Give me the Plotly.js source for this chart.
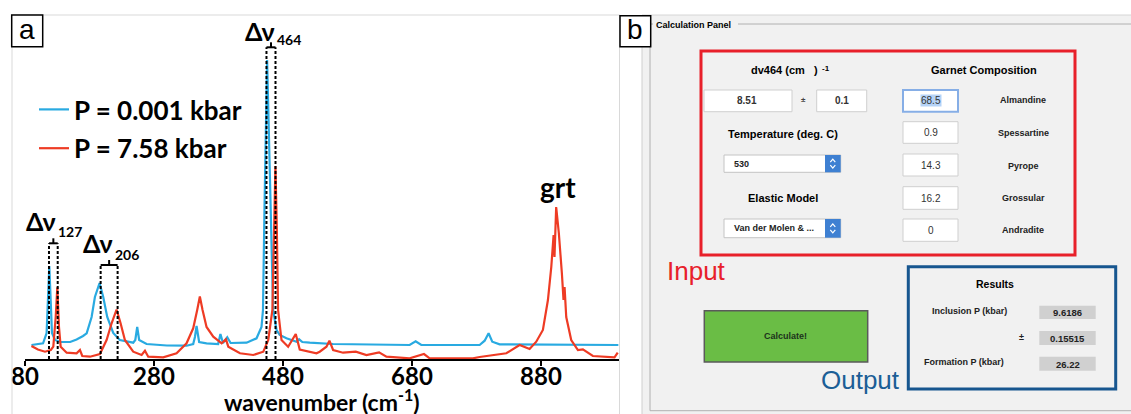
<!DOCTYPE html>
<html>
<head>
<meta charset="utf-8">
<script src="https://cdn.plot.ly/plotly-3.0.1.min.js"></script>
<style>html,body{margin:0;padding:0;background:#fff;}#chart{width:1131px;height:414px;}</style>
</head>
<body>
<div id="chart"></div>
<script>
// ---------- DATA ----------
const seriesNames = ['P = 0.001 kbar', 'P = 7.58 kbar'];
const lowPWavenumber = [90,108,113.5,116,117.7,119.8,121.8,126.5,135,150,160,170,175.6,183.3,188.4,195.6,201.3,207.5,216.8,227,247.8,251,254,257,268.5,300,330.5,340.8,343.5,346,348.5,350,361.5,379.5,383,387,393.6,398.8,423.6,439,446.7,449,451.3,453.3,455.4,458.5,461.6,464.7,470,475,485.4,501,505,510,521.5,557.7,676.4,685.7,694.5,784.9,792.7,798.8,804.5,815.9,1000];
const lowPIntensity = [14,15.7,26,59,93,59,26,19,17,17,19.5,23,25.7,42,62,76,62,42,26,19,16.3,19,32,19,15,13.5,13.3,15,22,33,22,17,15.7,15,25,16,21.7,16,16.3,20.7,32,49,149,249,299,216,116,49,29,24,20.7,17.3,19.7,17,16.3,15,14,17.7,14,14,18.3,25.7,17.3,14.7,14];
const highPWavenumber = [90,100,111,120,123.9,127.6,130.1,132.7,135.3,144.6,160,165.2,168.8,180.7,196.2,206.5,214.3,222,228.2,234.9,247.8,260.8,266,271.1,294.3,315,330.5,340.8,347,351.1,355.3,361.5,371.9,384.9,391.6,395.2,413.3,433.9,449.5,457.2,463.6,465.7,468.3,470.4,472.4,477.7,488,499.8,506,531.9,537,547.4,552,557.7,573.2,592.9,609.4,629,640.4,676.4,698.6,707.4,774.5,784.9,805.5,826.3,846.9,862.4,872.7,883,890.8,896,899.6,901,903.6,907.7,912.4,915,916.6,919.2,926.9,937.3,945,960.5,994,999];
const highPIntensity = [13,9.5,7.3,9,12.3,42,71.7,32,12.3,6.3,5.7,9,3,2.3,5,19,35.7,49.5,35.7,19,7.3,4,8.3,2.3,1.7,5.7,15.7,30.7,49,62.5,49,32,22.3,15.7,19.7,12.3,5.7,4,7.3,19,49,132,193,132,49,19,12.3,25,9.5,5.7,7.3,12.3,18.3,9,6.3,7.3,4,6.7,2.3,0.7,5,0.7,0.7,2,4,5.7,14,10,17.3,29,59,92,124,102,152,126,86,59,72,42,19,9,9.7,3,1.7,6.3];
const tickValues = [80, 280, 480, 680, 880];
const xAxisTitle = 'wavenumber (cm<sup>-1</sup>)';
const shiftLabels = ['127', '206', '464'];
const lowPPeak = [117.2, 197.3, 454.4];
const highPPeak = [130.7, 223.6, 468.4];

// GUI panel contents
const dvValue = '8.51', dvError = '0.1';
const temperatureValue = '530';
const elasticModel = 'Van der Molen & ...';
const garnetNames = ['Almandine', 'Spessartine', 'Pyrope', 'Grossular', 'Andradite'];
const garnetValues = ['68.5', '0.9', '14.3', '16.2', '0'];
const resultLabels = ['Inclusion P (kbar)', '±', 'Formation P (kbar)'];
const resultValues = ['9.6186', '0.15515', '26.22'];

// ---------- LAYOUT HELPERS ----------
const W = 1131, H = 414;
const X = px => px / W;
const Y = py => 1 - py / H;
const LATO = 'Lato, "Open Sans", sans-serif';
const SANS = '"Liberation Sans", Arial, sans-serif';
const shapes = [];
const ann = [];
function rectP(x0, y0, x1, y1, line, fill) {
  shapes.push({type: 'rect', xref: 'paper', yref: 'paper', x0: X(x0), x1: X(x1), y0: Y(y1), y1: Y(y0),
    line: line || {width: 0}, fillcolor: fill || 'rgba(0,0,0,0)'});
}
function lineP(x0, y0, x1, y1, color, width) {
  shapes.push({type: 'line', xref: 'paper', yref: 'paper', x0: X(x0), x1: X(x1), y0: Y(y0), y1: Y(y1),
    line: {color: color, width: width}});
}
function textP(txt, px, py, size, opts) {
  opts = opts || {};
  ann.push({text: txt, xref: 'paper', yref: 'paper', x: X(px), y: Y(py), showarrow: false,
    xanchor: opts.anchor || 'center', yanchor: 'middle',
    font: {family: opts.family || SANS, size: size, color: opts.color || '#000', weight: opts.weight || 'normal'},
    bgcolor: opts.bg || 'rgba(0,0,0,0)', borderpad: 0});
}

// ---------- PANEL A frame & label ----------
lineP(12, 15, 620, 15, '#d9d9d9', 1);
lineP(12, 15, 12, 414, '#d9d9d9', 1);
lineP(619.5, 15, 619.5, 414, '#d9d9d9', 1);
rectP(11.7, 15, 42.7, 46.7, {color: '#000', width: 1.5}, '#fff');
textP('a', 27.2, 29.5, 28);
// x-axis title (placed just under the tick labels)
textP(xAxisTitle, 322, 400.5, 23, {family: LATO, weight: 'bold'});

// Peak-shift markers (dashed lines + brackets)
const bracketTop = [115.7, 94, 311.7];
const labelPos = [[104.5, 138, 149.8, 127.3], [193.2, 115.7, 237.7, 104.7], [443.6, 328.5, 488.8, 320]];
for (let i = 0; i < shiftLabels.length; i++) {
  const a = lowPPeak[i], b = highPPeak[i], top = bracketTop[i];
  [a, b].forEach(xv => shapes.push({type: 'line', xref: 'x', yref: 'y', x0: xv, x1: xv, y0: 0, y1: top,
    line: {color: '#000', width: 2, dash: '3px,2px'}}));
  shapes.push({type: 'line', xref: 'x', yref: 'y', x0: a, x1: b, y0: top, y1: top, line: {color: '#000', width: 2}});
  shapes.push({type: 'line', xref: 'x', yref: 'y', x0: (a + b) / 2, x1: (a + b) / 2, y0: top, y1: top + 5, line: {color: '#000', width: 2}});
  const p = labelPos[i];
  ann.push({text: 'Δν', x: p[0], y: p[1], xref: 'x', yref: 'y', showarrow: false, xanchor: 'center', yanchor: 'middle',
    font: {family: LATO, size: 25, weight: 'bold', color: '#000'}});
  ann.push({text: shiftLabels[i], x: p[2], y: p[3], xref: 'x', yref: 'y', showarrow: false, xanchor: 'center', yanchor: 'middle',
    font: {family: LATO, size: 14, weight: 'bold', color: '#000'}});
}
ann.push({text: 'grt', x: 906.4, y: 172, xref: 'x', yref: 'y', showarrow: false, xanchor: 'center', yanchor: 'middle',
  font: {family: LATO, size: 28, weight: 'bold', color: '#000'}});

// ---------- PANEL B (GUI) ----------
rectP(642, 15, 1131, 414, {width: 0}, '#f1f1f1');
lineP(642, 15, 1131, 15, '#d6d6d6', 1);
lineP(642, 15, 642, 414, '#cfcfcf', 1);
lineP(650, 24, 653, 24, '#b0b0b0', 1);
lineP(738, 24, 1131, 24, '#b0b0b0', 1);
lineP(650, 24, 650, 410.7, '#b0b0b0', 1);
lineP(650, 410.7, 1131, 410.7, '#b0b0b0', 1);
rectP(620, 15.7, 650.7, 46.7, {color: '#000', width: 1.5}, '#fff');
textP('b', 635.3, 29.5, 28);
textP('Calculation Panel', 655, 24.5, 9, {anchor: 'left', weight: 'bold'});

// Input box
textP('dv464 (cm\u00a0\u00a0\u00a0)', 784, 70, 11, {weight: 'bold'});
textP('-1', 825.5, 68, 8, {weight: 'bold'});
textP('Garnet Composition', 983.5, 69.7, 11, {weight: 'bold'});
const fieldLine = {color: '#cfcfcf', width: 1};
rectP(704, 90, 792, 111.7, fieldLine, '#fff');
textP(dvValue, 747, 101, 10, {weight: 'bold', color: '#333'});
textP('±', 803, 99.5, 8, {weight: 'bold', color: '#444'});
rectP(816.7, 90, 866.7, 111.7, fieldLine, '#fff');
textP(dvError, 841.7, 101, 10, {weight: 'bold', color: '#333'});
textP('Temperature (deg. C)', 783, 134, 11, {weight: 'bold'});
textP('Elastic Model', 783, 198.3, 11, {weight: 'bold'});
const dropdowns = [[155, 172.3, temperatureValue], [219, 237.7, elasticModel]];
dropdowns.forEach(d => {
  rectP(724, d[0], 840.7, d[1], {color: '#c4c4c4', width: 1}, '#fff');
  rectP(825, d[0], 840.7, d[1], {width: 0}, '#3e80d2');
  const cy = (d[0] + d[1]) / 2, cx = 832.8;
  shapes.push({type: 'path', xref: 'paper', yref: 'paper',
    path: `M ${X(cx - 2.5)},${Y(cy - 1.5)} L ${X(cx)},${Y(cy - 4.5)} L ${X(cx + 2.5)},${Y(cy - 1.5)}`, line: {color: '#fff', width: 1.2}});
  shapes.push({type: 'path', xref: 'paper', yref: 'paper',
    path: `M ${X(cx - 2.5)},${Y(cy + 1.5)} L ${X(cx)},${Y(cy + 4.5)} L ${X(cx + 2.5)},${Y(cy + 1.5)}`, line: {color: '#fff', width: 1.2}});
  textP(d[2], 733, cy, 9, {anchor: 'left', weight: 'bold', color: '#222'});
});
const gBoxes = [[90, 111.7], [121.7, 143.3], [154, 176], [186.7, 209.3], [219, 241.3]];
const gNameY = [100, 133, 166, 198, 230];
garnetValues.forEach((v, i) => {
  const b = gBoxes[i];
  if (i === 0) {
    rectP(903, b[0], 958, b[1], {color: '#86aee6', width: 2}, '#fff');
    textP(v, 930.5, (b[0] + b[1]) / 2, 10, {color: '#333', bg: '#b6d3f7'});
  } else {
    rectP(903, b[0], 958, b[1], fieldLine, '#fff');
    textP(v, 930.5, (b[0] + b[1]) / 2, 10, {color: '#333'});
  }
  textP(garnetNames[i], 1023, gNameY[i], 9, {weight: 'bold', color: '#222'});
});
rectP(701, 51, 1075, 255, {color: '#e8202a', width: 3});
textP('Input', 696, 271, 26, {color: '#e8202a'});

// Calculate button
rectP(704.3, 310.7, 867.7, 362, {color: '#5a5a5a', width: 1.5}, '#6abd45');
textP('Calculate!', 785.7, 336, 9, {weight: 'bold', color: '#1c331c'});

// Output box
rectP(908.3, 266.7, 1115.7, 389, {color: '#17568f', width: 3});
textP('Output', 860, 380, 26, {color: '#1b5e96'});
textP('Results', 995, 284, 10.5, {weight: 'bold'});
const resBoxes = [[305.7, 319], [331, 345], [356.7, 370.7]];
const resLabelX = [969, 1021.7, 964.3];
resultValues.forEach((v, i) => {
  const b = resBoxes[i];
  const cy = (b[0] + b[1]) / 2;
  rectP(1039.3, b[0], 1095.7, b[1], {width: 0}, '#d0d0d0');
  textP(v, 1067.5, cy + 0.5, 9.5, {weight: 'bold', color: '#222'});
  textP(resultLabels[i], resLabelX[i], cy - 1.5, 9, {weight: 'bold', color: '#222'});
});

// ---------- TRACES ----------
const traces = [
  {x: lowPWavenumber, y: lowPIntensity, name: seriesNames[0], type: 'scatter', mode: 'lines',
    line: {color: '#29aae1', width: 2.2}, legendgroup: 'g1'},
  {x: highPWavenumber, y: highPIntensity, name: seriesNames[1], type: 'scatter', mode: 'lines',
    line: {color: '#ee3b24', width: 2.2}, legendgroup: 'g2'}
];

const layout = {
  width: W, height: H,
  margin: {l: 0, r: 0, t: 0, b: 0},
  paper_bgcolor: '#fff', plot_bgcolor: 'rgba(0,0,0,0)',
  showlegend: true,
  legend: {x: X(34), y: Y(86), xanchor: 'left', yanchor: 'top', bgcolor: 'rgba(0,0,0,0)',
    traceorder: 'grouped', tracegroupgap: 2,
    font: {family: LATO, size: 26, weight: 'bold', color: '#000'}},
  xaxis: {domain: [X(25), X(619)], range: [80, 1001], showgrid: false, zeroline: false,
    showline: true, linecolor: '#000', linewidth: 2, ticks: 'outside', ticklen: 5, tickwidth: 2, tickcolor: '#000',
    tickmode: 'array', tickvals: tickValues, ticktext: tickValues.map(String),
    ticklabelstandoff: -10,
    tickfont: {family: LATO, size: 24, weight: 'bold', color: '#000'},
    automargin: false},
  yaxis: {domain: [Y(359), Y(15)], range: [0, 344], visible: false, fixedrange: true},
  shapes: shapes,
  annotations: ann
};

Plotly.newPlot('chart', traces, layout, {displayModeBar: false, staticPlot: true});
</script>
</body>
</html>
